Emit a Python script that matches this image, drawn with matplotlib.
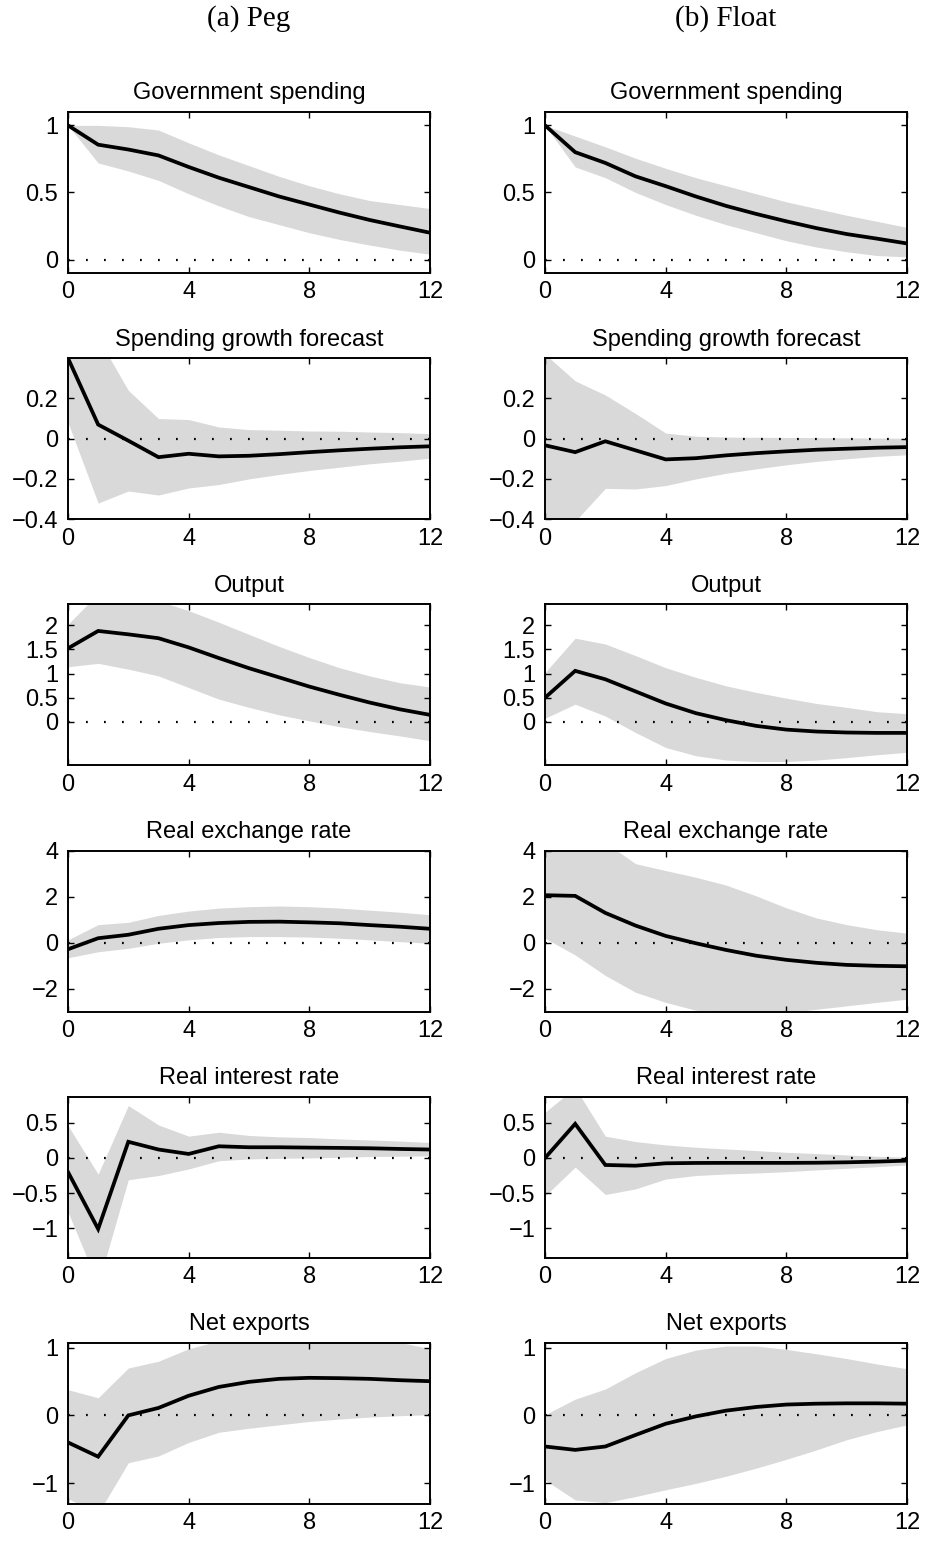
import numpy as np
import matplotlib
matplotlib.use('Agg')
import matplotlib.pyplot as plt
from matplotlib.ticker import FuncFormatter

# ── Impulse responses to a government spending shock (median + band) ──
horizon = np.arange(13)

titles = ['Government spending', 'Spending growth forecast', 'Output',
          'Real exchange rate', 'Real interest rate', 'Net exports']
regimes = ['(a) Peg', '(b) Float']

# Peg
peg_gov = [1.0, 0.856, 0.82, 0.776, 0.69, 0.61, 0.54, 0.47, 0.41, 0.35, 0.295, 0.247, 0.20]
peg_gov_hi = [1.0, 1.0, 0.99, 0.965, 0.87, 0.78, 0.70, 0.62, 0.55, 0.49, 0.44, 0.41, 0.38]
peg_gov_lo = [1.0, 0.72, 0.66, 0.59, 0.49, 0.40, 0.32, 0.26, 0.20, 0.15, 0.108, 0.07, 0.04]

peg_fcst = [0.40, 0.07, -0.01, -0.092, -0.075, -0.088, -0.085, -0.077, -0.067, -0.058, -0.05, -0.043, -0.038]
peg_fcst_hi = [0.70, 0.50, 0.24, 0.10, 0.095, 0.058, 0.045, 0.042, 0.038, 0.037, 0.033, 0.03, 0.025]
peg_fcst_lo = [0.08, -0.32, -0.26, -0.28, -0.245, -0.228, -0.20, -0.178, -0.158, -0.142, -0.125, -0.112, -0.097]

peg_out = [1.52, 1.88, 1.81, 1.73, 1.54, 1.32, 1.11, 0.92, 0.73, 0.56, 0.40, 0.26, 0.145]
peg_out_hi = [2.02, 2.65, 2.65, 2.50, 2.30, 2.06, 1.81, 1.56, 1.33, 1.12, 0.95, 0.81, 0.72]
peg_out_lo = [1.14, 1.21, 1.09, 0.95, 0.71, 0.47, 0.30, 0.145, 0.02, -0.10, -0.20, -0.29, -0.39]

peg_rer = [-0.29, 0.19, 0.34, 0.60, 0.76, 0.85, 0.90, 0.91, 0.88, 0.84, 0.76, 0.69, 0.60]
peg_rer_hi = [0.12, 0.78, 0.88, 1.18, 1.37, 1.50, 1.56, 1.59, 1.56, 1.50, 1.41, 1.32, 1.21]
peg_rer_lo = [-0.66, -0.40, -0.25, -0.03, 0.12, 0.22, 0.26, 0.26, 0.24, 0.19, 0.12, 0.04, -0.03]

peg_rir = [-0.20, -1.01, 0.23, 0.12, 0.057, 0.166, 0.152, 0.152, 0.147, 0.143, 0.138, 0.128, 0.12]
peg_rir_hi = [0.46, -0.23, 0.745, 0.47, 0.31, 0.366, 0.32, 0.30, 0.29, 0.27, 0.256, 0.24, 0.22]
peg_rir_lo = [-0.77, -1.80, -0.31, -0.25, -0.157, -0.04, -0.014, -0.005, 0.0, 0.01, 0.02, 0.025, 0.03]

peg_nx = [-0.40, -0.61, 0.0, 0.11, 0.29, 0.42, 0.495, 0.54, 0.555, 0.55, 0.54, 0.52, 0.505]
peg_nx_hi = [0.38, 0.26, 0.70, 0.80, 0.985, 1.10, 1.15, 1.17, 1.17, 1.15, 1.12, 1.08, 0.985]
peg_nx_lo = [-1.23, -1.45, -0.70, -0.60, -0.40, -0.25, -0.19, -0.14, -0.09, -0.055, -0.025, -0.005, 0.01]

# Float
flt_gov = [1.0, 0.80, 0.72, 0.62, 0.547, 0.47, 0.40, 0.34, 0.285, 0.234, 0.19, 0.156, 0.12]
flt_gov_hi = [1.0, 0.92, 0.84, 0.755, 0.68, 0.61, 0.55, 0.49, 0.43, 0.38, 0.33, 0.285, 0.24]
flt_gov_lo = [1.0, 0.69, 0.61, 0.50, 0.41, 0.33, 0.26, 0.20, 0.14, 0.093, 0.058, 0.03, 0.02]

flt_fcst = [-0.033, -0.067, -0.013, -0.058, -0.103, -0.097, -0.083, -0.072, -0.063, -0.055, -0.05, -0.045, -0.042]
flt_fcst_hi = [0.42, 0.287, 0.217, 0.125, 0.028, 0.012, 0.008, 0.007, 0.006, 0.005, 0.004, 0.003, 0.002]
flt_fcst_lo = [-0.60, -0.41, -0.247, -0.25, -0.233, -0.20, -0.172, -0.15, -0.13, -0.113, -0.10, -0.088, -0.08]

flt_out = [0.50, 1.055, 0.88, 0.63, 0.38, 0.18, 0.035, -0.083, -0.16, -0.20, -0.22, -0.228, -0.228]
flt_out_hi = [1.02, 1.73, 1.61, 1.37, 1.12, 0.92, 0.745, 0.61, 0.49, 0.38, 0.30, 0.21, 0.17]
flt_out_lo = [0.076, 0.365, 0.12, -0.22, -0.53, -0.70, -0.79, -0.82, -0.82, -0.79, -0.74, -0.68, -0.63]

flt_rer = [2.06, 2.03, 1.29, 0.74, 0.29, -0.03, -0.32, -0.57, -0.75, -0.88, -0.97, -1.01, -1.03]
flt_rer_hi = [4.8, 4.6, 4.35, 3.43, 3.13, 2.84, 2.50, 2.03, 1.51, 1.07, 0.78, 0.56, 0.41]
flt_rer_lo = [0.19, -0.54, -1.43, -2.16, -2.60, -2.94, -3.05, -3.1, -3.05, -2.90, -2.75, -2.60, -2.46]

flt_rir = [0.0, 0.485, -0.10, -0.11, -0.076, -0.071, -0.07, -0.07, -0.07, -0.068, -0.062, -0.052, -0.038]
flt_rir_hi = [0.65, 1.0, 0.31, 0.233, 0.185, 0.152, 0.128, 0.105, 0.08, 0.062, 0.043, 0.024, 0.01]
flt_rir_lo = [-0.54, -0.13, -0.52, -0.44, -0.30, -0.25, -0.228, -0.214, -0.195, -0.17, -0.147, -0.124, -0.10]

flt_nx = [-0.46, -0.51, -0.46, -0.29, -0.124, -0.015, 0.07, 0.124, 0.16, 0.173, 0.178, 0.178, 0.173]
flt_nx_hi = [0.01, 0.24, 0.39, 0.63, 0.84, 0.965, 1.025, 1.025, 0.975, 0.91, 0.84, 0.76, 0.69]
flt_nx_lo = [-0.955, -1.25, -1.29, -1.20, -1.10, -1.005, -0.90, -0.78, -0.65, -0.51, -0.36, -0.24, -0.14]

peg = [(peg_gov, peg_gov_lo, peg_gov_hi), (peg_fcst, peg_fcst_lo, peg_fcst_hi),
       (peg_out, peg_out_lo, peg_out_hi), (peg_rer, peg_rer_lo, peg_rer_hi),
       (peg_rir, peg_rir_lo, peg_rir_hi), (peg_nx, peg_nx_lo, peg_nx_hi)]
flt = [(flt_gov, flt_gov_lo, flt_gov_hi), (flt_fcst, flt_fcst_lo, flt_fcst_hi),
       (flt_out, flt_out_lo, flt_out_hi), (flt_rer, flt_rer_lo, flt_rer_hi),
       (flt_rir, flt_rir_lo, flt_rir_hi), (flt_nx, flt_nx_lo, flt_nx_hi)]

ylims = [(-0.1, 1.1), (-0.4, 0.4), (-0.9, 2.43), (-3, 4), (-1.42, 0.87), (-1.31, 1.07)]
yticks = [[0, 0.5, 1], [-0.4, -0.2, 0, 0.2], [0, 0.5, 1, 1.5, 2],
          [-2, 0, 2, 4], [-1, -0.5, 0, 0.5], [-1, 0, 1]]
xticks = [0, 4, 8, 12]

# ── Plot ──
plt.rcParams['font.family'] = ['Liberation Sans', 'DejaVu Sans']
fig = plt.figure(figsize=(9.25, 15.44), dpi=100, facecolor='white')
gs = fig.add_gridspec(6, 2, left=0.0735, right=0.9805, top=0.9275, bottom=0.0259,
                      hspace=0.529, wspace=0.318)

fmt = FuncFormatter(lambda v, _: ('%g' % v).replace('-', '\u2212'))
BAND = '#d9d9d9'

for col, data in enumerate([peg, flt]):
    for row, (mid, lo, hi) in enumerate(data):
        ax = fig.add_subplot(gs[row, col])
        ax.fill_between(horizon, lo, hi, color=BAND, lw=0, zorder=1)
        ax.axhline(0, color='black', lw=1.6, linestyle=(0, (0.8, 7.3)), zorder=2)
        ax.plot(horizon, mid, color='black', lw=2.7, zorder=3, solid_joinstyle='miter')
        ax.set_xlim(0, 12)
        ax.set_ylim(*ylims[row])
        ax.set_xticks(xticks)
        ax.set_yticks(yticks[row])
        ax.yaxis.set_major_formatter(fmt)
        ax.tick_params(direction='in', top=True, right=True, length=4, width=1,
                       labelsize=17)
        ax.tick_params(axis='x', pad=6)
        ax.tick_params(axis='y', pad=7)
        for s in ax.spines.values():
            s.set_linewidth(1.4)
            s.set_zorder(4)
        ax.set_title(titles[row], fontsize=17, pad=9)

# Regime headings over each column
for col, label in enumerate(regimes):
    x = 0.0735 + 0.391 / 2 if col == 0 else 0.589 + 0.391 / 2
    fig.text(x, 1 - 19 / 1544, label, ha='center', va='center', fontsize=21,
             family=['Liberation Serif', 'DejaVu Serif'])

fig.savefig('out.png', dpi=100, facecolor='white')
